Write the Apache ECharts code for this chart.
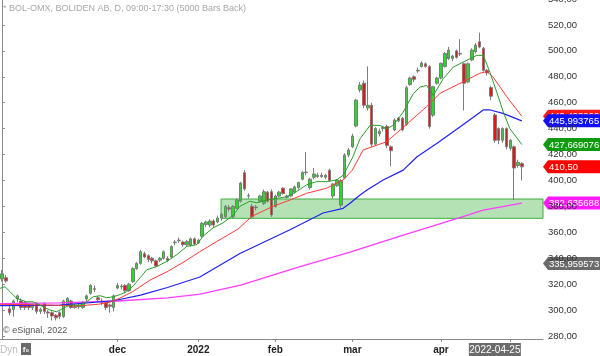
<!DOCTYPE html>
<html><head><meta charset="utf-8">
<script src="https://cdn.jsdelivr.net/npm/echarts@6/dist/echarts.min.js"></script>
<style>html,body{margin:0;padding:0;background:#fff}#c{width:600px;height:356px}</style>
</head><body><div id="c"></div>
<script>
// ---- data (bar index 0..135) ----
const opens  = [324,325,301,300.5,308.5,307,306,305,302,305, 299,305,298.5,298,296,298,295,304,307,303,
  302.5,302,308.5,313,316.5,309.5,307,306,304,302, 317,318,319,315,322,332,336,343.5,342,340,
  338,338.5,340,340,341,352,353.5,352.5,350.5,350, 355,352,357,366,365.6,368.7,368,371,372,379,
  372,378.5,384,406,388,380,379,384,382.4,391, 391.3,380,388,394,388,388,391,394.5,401,406,
  394.5,402.5,403,404,402.5,407.8,388,396,381,401.8, 419.6,426,442,469.8,475,456,458,428,436,440,
  441.7,426,439,448,448,443.3,474,480,485,488, 490,487.8,450.4,475,479,488,494,494,500,498,
  490,476,493,499.4,507,502,485,471.6,450.5,440, 431,440,424.8,426,411.5,413];
const closes = [328,322.5,298,307,311,302,302,302,304,299, 300.5,299,297.7,295.5,294,295,307,309,302,302,
  303.5,306,311,319,316,308,306,302,303,311, 319,318.5,315,320,332,336,345,341,339,338,
  334,340,345,338.5,349,352.5,354,350.5,353,355, 351,354,367,368,368.7,365.6,371,374,380,378,
  380,385,398,393.5,388.5,372,379.5,388,391.3,384, 373.4,388,391,390,387,393.5,395,398.4,406.3,406.5,
  401,405,404,403,404,400,397.3,400.3,400,419.6, 423.5,434.3,462,473.6,458,458,428,440,438,441,
  427,423,446.6,446,439,471.6,479,478,484.5,490.6, 488,441.7,472.3,479,490.4,498,500.6,496,495,497.5,
  475,490,500.6,504.5,503,485,483,465,431,431, 440,426,431,409.6,414,410.5];
const lows   = [322,321,296,295,306,300,300,300,300,297, 297,297,294,292,292,293,294,303,301,301,
  301,301,307,312,314,306,304,300,298,299, 316,316,313,314,321,331,335,340,337,336,
  333,337,339,337,340,350,352,349,349,349, 350,351,356,364,364,364,367,369,371,376,
  371,378,383,392,386,371,377,383,381,383, 372,379,387,389,386,387,390,393,400,404,
  393,401,402,402,401,399,386,395,379,401, 418,425,441,468,456,454,426,427,434,438,
  425,411,438,445,438,442,473,476,483,487, 487,440,449,474,478,487,493,492,494,496,
  454,475,492,498,502,484,481,462,429,428, 429,424,423,385,410,400];
const highs  = [331,327,303,308,312,309,307,306,305,306, 302,306,300,299,297,299,308,310,308,305,
  305,307,312,320,319,311,309,307,305,312, 321,320,320,321,333,337,346.5,345,343,341,
  339,341,346,341.5,350,354,356,353.5,354,356, 356,355,368,369,370,370,373,375,381,381,
  381,386,399,408,390,382,381,389,393,392, 393,389,392,395,389,394,396,399,407,422,
  402,409.6,406,406,405,409,398,401,401,421, 425,436,463,476,477,488,460,441,440,442,
  443,427,448,449,449,473,480,481,487,492, 491,489,473,480,491,499,503,497,501,509,
  491,491,502,506,514,503,486,473,452,441, 441,441,432,427,416,414];

// moving averages: [bar index, value]
const maGreen = [[-0.5,316.8],[0.8,318],[2.1,314.2],[3.8,309.1],[6.4,306.4],[8.1,306.4],[10.7,302.6],[12.5,300],[14.2,298.7],[15.9,301.3],
  [17.7,303.9],[20.3,303.9],[22,306.4],[23.7,310.3],[25.5,311.1],[27.2,309.5],[28.9,310.3],[30.7,312],[32.4,314.2],[34.1,318.7],
  [35.9,325],[37.6,331.1],[40.2,333.6],[42.8,337.5],[45.4,342.7],[48,349.1],[50.6,350.5],[52.2,356.9],[54.8,363.4],[57.4,367.3],
  [60,373],[61.8,380.1],[64.4,384],[66.2,382.8],[68.8,384.9],[71.4,386.2],[74,387.5],[76.5,391.4],[79.1,396.6],[81.7,399.1],
  [84.3,399.1],[86.9,400.4],[88.6,404],[91,417.3],[93,432.2],[95.6,442.5],[98.2,442.5],[99.9,439.9],[101.6,442.5],[104.2,452.8],
  [106.8,466.9],[108.6,472.1],[110.3,473.3],[112,465.6],[114.6,478.5],[117.2,487.5],[119.8,491.4],[121.5,493.9],[123.3,496.5],[125,496.5],
  [126.7,483.6],[128.5,468.2],[130.2,452.8],[131.9,440],[135,427.7]];
const maRed = [[-0.5,304.5],[10,304],[20,303.3],[25,304.5],[28,306],[30.7,309.3],[34,314.3],[38.5,323.2],[42.9,329.6],[47,336.7],
  [51.4,345.1],[55.8,352.9],[61.3,362.5],[64.9,372.3],[70.4,380.1],[74.8,384.9],[79.1,390.1],[84.3,394],[88.6,400.4],[91,408],
  [93.8,423.5],[99.9,429.9],[103.4,438.9],[110.3,457],[113.8,467.3],[120.7,477.5],[124.1,482.7],[125.9,484],[127.5,480],[131.1,464.6],[135,449.5]];
const maBlue = [[-0.5,303.5],[15,303.9],[29,307.2],[36,311.6],[43,317.4],[51.4,325.5],[61.8,343.7],[74.8,362],[83.4,374.9],[88.6,378.5],
  [90.4,382.4],[93,388.8],[94.8,392.6],[99,400.3],[104.2,408],[107.8,418.3],[113,428.7],[119,441.5],[125,454.4],[126.8,454.4],[130.1,451.8],[135,446]];
const maPink = [[-0.5,305],[15,305.5],[30,307],[43,309.5],[51.5,312.3],[62,319.3],[77,333.2],[90.4,344.8],[103.4,357.1],[118.5,371],[125,377.2],[135,382.6]];

const zoneFrom = 56.9, zoneTop = 385.7, zoneBottom = 370.8;

const tickIndex = [30, 51, 71, 91, 114];
const tickText  = ['dec', '2022', 'feb', 'mar', 'apr'];
const extraTick = 132;
const cursorIndex = 128, cursorText = '2022-04-25';

const tagValues = [449.493969, 445.993765, 427.669076, 410.50, 382.635688, 335.959573];
const tagTexts  = ['449,493969', '445,993765', '427,669076', '410,50', '382,635688', '335,959573'];
const tagColors = ['#ff1a1a', '#1010ff', '#109a10', '#ff0000', '#ff1aff', '#6a6a6a'];

const titleText = '* BOL-OMX, BOLIDEN AB, D, 09:00-17:30 (5000 Bars Back)';
const copyText = '\u00a9 eSignal, 2022';

// ---- chart ----
const NCAT = 141;
const cats = Array.from({length: NCAT}, (_, i) => String(i));
const candles = opens.map((o, i) => [o, closes[i], lows[i], highs[i]]);
const FONT = 'Liberation Sans, Arial, sans-serif';

const chart = echarts.init(document.getElementById('c'));
chart.setOption({
  animation: false,
  backgroundColor: '#fff',
  grid: {left: 0, right: 57, top: -1, height: 340, containLabel: false, outerBoundsMode: 'none'},
  xAxis: [{
    type: 'category', data: cats, boundaryGap: true,
    axisLine: {show: true, lineStyle: {color: '#8a8a8a'}},
    axisTick: {show: true, alignWithLabel: true, length: 3, lineStyle: {color: '#8a8a8a'},
      interval: (i) => tickIndex.includes(i) || i === extraTick},
    axisLabel: {show: true, interval: (i) => tickIndex.includes(i), margin: 6,
      fontFamily: FONT, fontSize: 10, fontWeight: 'bold', color: '#222',
      formatter: (v, i) => { const k = tickIndex.indexOf(i); return k >= 0 ? tickText[k] : ''; }},
    splitLine: {show: false}
  }, {
    type: 'value', min: -0.5, max: NCAT - 0.5, show: false
  }],
  yAxis: {
    type: 'value', position: 'right', min: 277.7, max: 540, splitNumber: 13, scale: true,
    axisLine: {show: true, lineStyle: {color: '#8a8a8a'}},
    axisTick: {show: true, length: 3, lineStyle: {color: '#8a8a8a'}},
    axisLabel: {show: true, margin: 5, fontFamily: FONT, fontSize: 9.5, color: '#333', showMinLabel: false,
      formatter: (v) => Math.abs(v / 20 - Math.round(v / 20)) < 1e-6 ? v.toFixed(2).replace('.', ',') : ''},
    splitLine: {show: false}
  },
  series: [{
    type: 'line', xAxisIndex: 1, data: [], z: 1, silent: true,
    markArea: {silent: true, itemStyle: {color: '#b4e2b4', borderColor: '#3fae3f', borderWidth: 1},
      data: [[{coord: [zoneFrom, zoneTop]}, {coord: [NCAT - 0.5, zoneBottom]}]]}
  }, {
    type: 'candlestick', xAxisIndex: 0, data: candles, z: 2, barWidth: 3,
    itemStyle: {color: '#1fe01f', color0: '#ee1111', borderColor: '#7c7c7c', borderColor0: '#7c7c7c', borderWidth: 1}
  }, {
    type: 'line', xAxisIndex: 1, data: maPink, z: 3, symbol: 'none', lineStyle: {color: '#ff3cff', width: 1.3}
  }, {
    type: 'line', xAxisIndex: 1, data: maBlue, z: 3, symbol: 'none', lineStyle: {color: '#2020f0', width: 1.2}
  }, {
    type: 'line', xAxisIndex: 1, data: maRed, z: 3, symbol: 'none', lineStyle: {color: '#ff3a3a', width: 1}
  }, {
    type: 'line', xAxisIndex: 1, data: maGreen, z: 3, symbol: 'none', lineStyle: {color: '#2a9e2a', width: 1}
  }]
});

const axisX = chart.convertToPixel({xAxisIndex: 1}, NCAT - 0.5);
const g = [];
tagValues.forEach((v, i) => {
  const y = chart.convertToPixel({yAxisIndex: 0}, v);
  g.push({type: 'group', x: axisX, y: y, z: 100 + i, children: [
    {type: 'polygon', shape: {points: [[0, 0], [5, -6.5], [60, -6.5], [60, 6.5], [5, 6.5]]}, style: {fill: tagColors[i]}},
    {type: 'text', x: 6, y: 0.5, style: {text: tagTexts[i], fill: '#fff', font: '9.5px ' + FONT, verticalAlign: 'middle'}}
  ]});
});
const cx = chart.convertToPixel({xAxisIndex: 1}, cursorIndex);
g.push({type: 'rect', shape: {x: cx - 26, y: 343, width: 52, height: 14}, style: {fill: '#6b6b6b'}, z: 100});
g.push({type: 'text', x: cx, y: 350.5, style: {text: cursorText, fill: '#fff', font: '10px ' + FONT, align: 'center', verticalAlign: 'middle'}, z: 101});
g.push({type: 'text', x: 3, y: 8.5, style: {text: titleText, fill: '#a8a8a8', font: '9px ' + FONT, verticalAlign: 'middle'}, z: 100});
g.push({type: 'text', x: 3, y: 331, style: {text: copyText, fill: '#555', font: '9px ' + FONT, verticalAlign: 'middle'}, z: 100});
g.push({type: 'text', x: 0, y: 350, style: {text: 'Dyn', fill: '#bbb', font: '10px ' + FONT, verticalAlign: 'middle'}, z: 100});
g.push({type: 'rect', shape: {x: 21, y: 343, width: 10, height: 12}, style: {fill: '#6a6a6a'}, z: 100});
g.push({type: 'text', x: 26, y: 350, style: {text: 'f\u2080', fill: '#fff', font: 'bold 8px ' + FONT, align: 'center', verticalAlign: 'middle'}, z: 101});
chart.setOption({graphic: g});
</script>
</body></html>
